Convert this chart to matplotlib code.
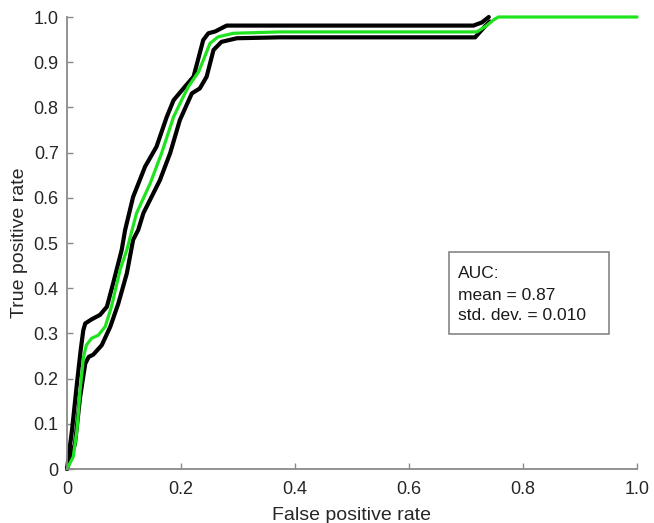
import matplotlib
matplotlib.use("Agg")
import matplotlib.pyplot as plt
from matplotlib.patches import Rectangle

plt.rcParams['font.family'] = ['Liberation Sans', 'DejaVu Sans']

# Mean ROC curve (green)
mean_fpr = [0, 0.011, 0.0175, 0.023, 0.029, 0.034, 0.043, 0.055, 0.067, 0.078, 0.093, 0.105,
            0.122, 0.146, 0.166, 0.187, 0.201, 0.213, 0.231, 0.251, 0.265, 0.292, 0.373, 0.500,
            0.719, 0.735, 0.750, 0.757, 0.800, 1.0]
mean_tpr = [0, 0.027, 0.086, 0.175, 0.248, 0.274, 0.289, 0.296, 0.315, 0.359, 0.440, 0.485,
            0.566, 0.632, 0.699, 0.779, 0.816, 0.846, 0.879, 0.942, 0.956, 0.964, 0.967, 0.967,
            0.967, 0.980, 0.995, 1.0, 1.0, 1.0]

# Upper bound (black)
upper_fpr = [0, 0.0088, 0.0175, 0.024, 0.0286, 0.032, 0.043, 0.058, 0.070, 0.081, 0.096, 0.102,
             0.116, 0.137, 0.157, 0.175, 0.187, 0.207, 0.222, 0.239, 0.248, 0.260, 0.280, 0.400,
             0.713, 0.728, 0.740]
upper_tpr = [0, 0.086, 0.190, 0.263, 0.307, 0.322, 0.331, 0.341, 0.359, 0.411, 0.485, 0.529,
             0.602, 0.669, 0.713, 0.779, 0.816, 0.846, 0.868, 0.949, 0.964, 0.968, 0.981, 0.981,
             0.981, 0.988, 1.0]

# Lower bound (black)
lower_fpr = [0, 0.014, 0.023, 0.032, 0.038, 0.046, 0.061, 0.076, 0.090, 0.105, 0.116, 0.125,
             0.134, 0.163, 0.181, 0.198, 0.219, 0.233, 0.245, 0.257, 0.271, 0.298, 0.373, 0.716,
             0.733, 0.742]
lower_tpr = [0, 0.056, 0.159, 0.233, 0.248, 0.253, 0.274, 0.315, 0.366, 0.433, 0.507, 0.529,
             0.566, 0.639, 0.699, 0.772, 0.831, 0.842, 0.868, 0.927, 0.945, 0.953, 0.955, 0.955,
             0.979, 0.990]

x_ticks = [0, 0.2, 0.4, 0.6, 0.8, 1.0]
x_tick_labels = ["0", "0.2", "0.4", "0.6", "0.8", "1.0"]
y_ticks = [0, 0.1, 0.2, 0.3, 0.4, 0.5, 0.6, 0.7, 0.8, 0.9, 1.0]
y_tick_labels = ["0", "0.1", "0.2", "0.3", "0.4", "0.5", "0.6", "0.7", "0.8", "0.9", "1.0"]

auc_lines = ["AUC:", "mean = 0.87", "std. dev. = 0.010"]

fig = plt.figure(figsize=(6.54, 5.23), dpi=100)
ax = fig.add_axes([67 / 654, 54 / 523, 570 / 654, 452 / 523])

lk = dict(solid_joinstyle='round', solid_capstyle='round', clip_on=False)
ax.plot(upper_fpr, upper_tpr, color='black', lw=3.0, **lk)
ax.plot(lower_fpr, lower_tpr, color='black', lw=3.0, **lk)
ax.plot(mean_fpr, mean_tpr, color='#1ee31e', lw=2.3, **lk)

ax.set_xlim(0, 1)
ax.set_ylim(0, 1)
ax.set_xticks(x_ticks)
ax.set_xticklabels(x_tick_labels)
ax.set_yticks(y_ticks)
ax.set_yticklabels(y_tick_labels)

for s in ['top', 'right']:
    ax.spines[s].set_visible(False)
for s in ['left', 'bottom']:
    ax.spines[s].set_color('#8a8a8a')
    ax.spines[s].set_linewidth(1.3)

ax.tick_params(direction='in', length=4, width=1, color='#8a8a8a',
               labelsize=13, labelcolor='#262626')
ax.tick_params(axis='x', pad=9)
ax.tick_params(axis='y', pad=6)

ax.set_xlabel("False positive rate", fontsize=14, color='#262626', labelpad=6)
ax.set_ylabel("True positive rate", fontsize=14, color='#262626', labelpad=4)

# AUC box
x0 = (449 - 67) / 570
x1 = (609 - 67) / 570
y_top = (469 - 252) / 452
y_bot = (469 - 334) / 452
ax.add_patch(Rectangle((x0, y_bot), x1 - x0, y_top - y_bot, transform=ax.transAxes,
                       fill=True, facecolor='white', edgecolor='#7a7a7a', lw=1.1, zorder=5))
tx = (458 - 67) / 570
for line, yc in zip(auc_lines, [273, 295, 316]):
    ax.text(tx, (469 - yc) / 452, line, transform=ax.transAxes, fontsize=12.5,
            va='center', ha='left', color='#1a1a1a', zorder=6)

fig.savefig("out.png", dpi=100, facecolor='white')
